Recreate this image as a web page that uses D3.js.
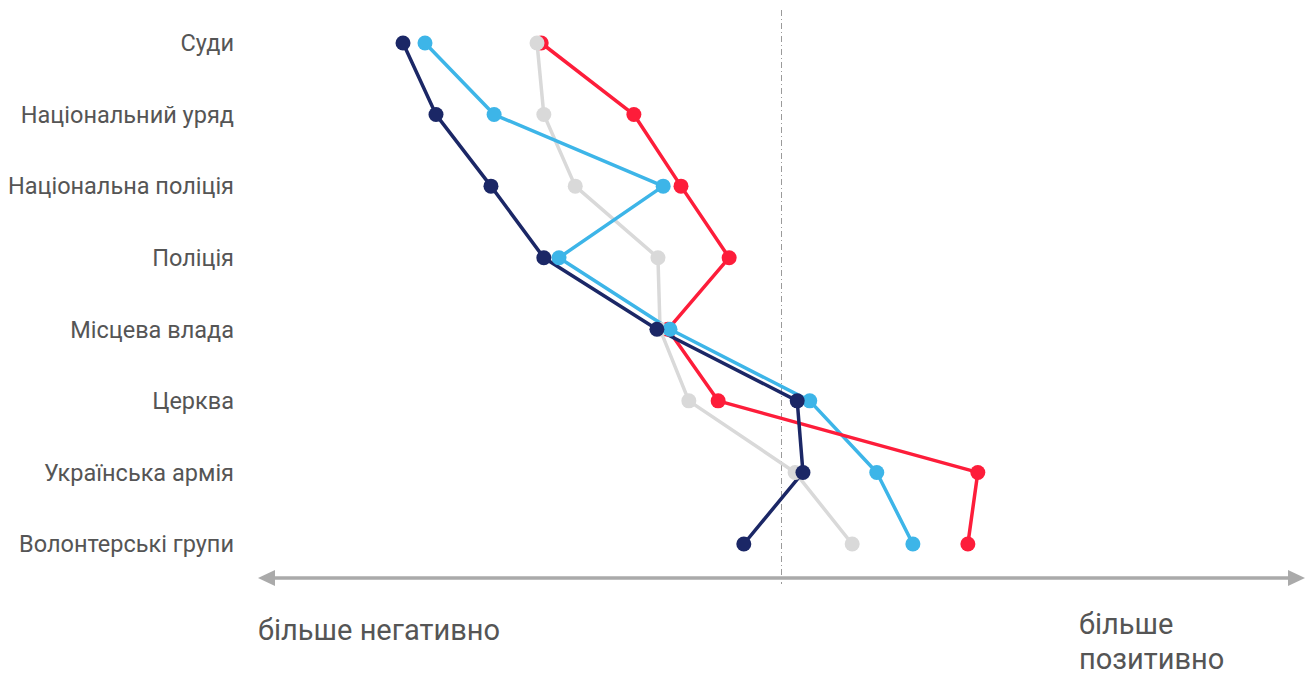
<!DOCTYPE html>
<html>
<head>
<meta charset="utf-8">
<script src="https://cdn.jsdelivr.net/npm/d3@7/dist/d3.min.js"></script>
<style>
  html, body { margin: 0; padding: 0; background: #fff; }
  svg { display: block; font-family: Roboto, "Noto Sans", sans-serif; }
</style>
</head>
<body>
<svg id="chart" width="1309" height="675"></svg>
<script>
const categories = ["Суди", "Національний уряд", "Національна поліція", "Поліція",
  "Місцева влада", "Церква", "Українська армія", "Волонтерські групи"];

const grayValues  = [-0.467, -0.454, -0.394, -0.236, -0.232, -0.177, 0.026, 0.135];
const blueValues  = [-0.681, -0.549, -0.226, -0.425, -0.213, 0.054, 0.182, 0.251];
const redValues   = [-0.459, -0.282, -0.192, -0.100, -0.217, -0.121, 0.375, 0.356];
const navyValues  = [-0.723, -0.660, -0.555, -0.454, -0.238, 0.030, 0.041, -0.072];

const leftLabel = "більше негативно";
const rightLabel = ["більше", "позитивно"];

const series = {
  gray: { values: grayValues, color: "#d9d9d9" },
  blue: { values: blueValues, color: "#3db5e8" },
  red:  { values: redValues,  color: "#fd1d3a" },
  navy: { values: navyValues, color: "#1b2766" }
};
const lineOrder = ["gray", "blue", "red", "navy"];
const dotOrder = ["red", "gray", "blue", "navy"];

const svg = d3.select("#chart");
const x = d3.scaleLinear().domain([-1, 1]).range([258, 1305]);
const y = d3.scalePoint().domain(categories).range([43, 544]);

// neutral dashed line
svg.append("line")
  .attr("x1", x(0)).attr("x2", x(0))
  .attr("y1", 10).attr("y2", 584)
  .attr("stroke", "#9a9a9a").attr("stroke-width", 1)
  .attr("stroke-dasharray", "6,3,1,3");

// category labels
svg.append("g").selectAll("text").data(categories).join("text")
  .attr("x", 234).attr("y", d => y(d))
  .attr("dy", "0.35em")
  .attr("text-anchor", "end")
  .attr("font-size", 23.5)
  .attr("fill", "#555")
  .text(d => d);

// double arrow axis
const ay = 578;
svg.append("line")
  .attr("x1", x(-1) + 14).attr("x2", x(1) - 14)
  .attr("y1", ay).attr("y2", ay)
  .attr("stroke", "#aaaaaa").attr("stroke-width", 3.5);
svg.append("path")
  .attr("d", `M${x(-1)},${ay} L${x(-1)+17},${ay-8} L${x(-1)+17},${ay+8} Z`)
  .attr("fill", "#aaaaaa");
svg.append("path")
  .attr("d", `M${x(1)},${ay} L${x(1)-17},${ay-8} L${x(1)-17},${ay+8} Z`)
  .attr("fill", "#aaaaaa");

svg.append("text")
  .attr("x", x(-1)).attr("y", 640)
  .attr("font-size", 29).attr("fill", "#555")
  .text(leftLabel);
svg.append("text")
  .attr("x", 1079).attr("y", 634)
  .attr("font-size", 29).attr("fill", "#555")
  .selectAll("tspan").data(rightLabel).join("tspan")
  .attr("x", 1079).attr("dy", (d, i) => i === 0 ? 0 : 35)
  .text(d => d);

const line = d3.line()
  .x(d => x(d.v))
  .y(d => y(d.c));

const pointsOf = key => categories.map((c, i) => ({ c, v: series[key].values[i] }));

lineOrder.forEach(k => {
  svg.append("path")
    .attr("d", line(pointsOf(k)))
    .attr("fill", "none")
    .attr("stroke", series[k].color)
    .attr("stroke-width", 3.5)
    .attr("stroke-linejoin", "round");
});
dotOrder.forEach(k => {
  svg.append("g").selectAll("circle").data(pointsOf(k)).join("circle")
    .attr("cx", d => x(d.v))
    .attr("cy", d => y(d.c))
    .attr("r", 7.5)
    .attr("fill", series[k].color);
});
</script>
</body>
</html>
